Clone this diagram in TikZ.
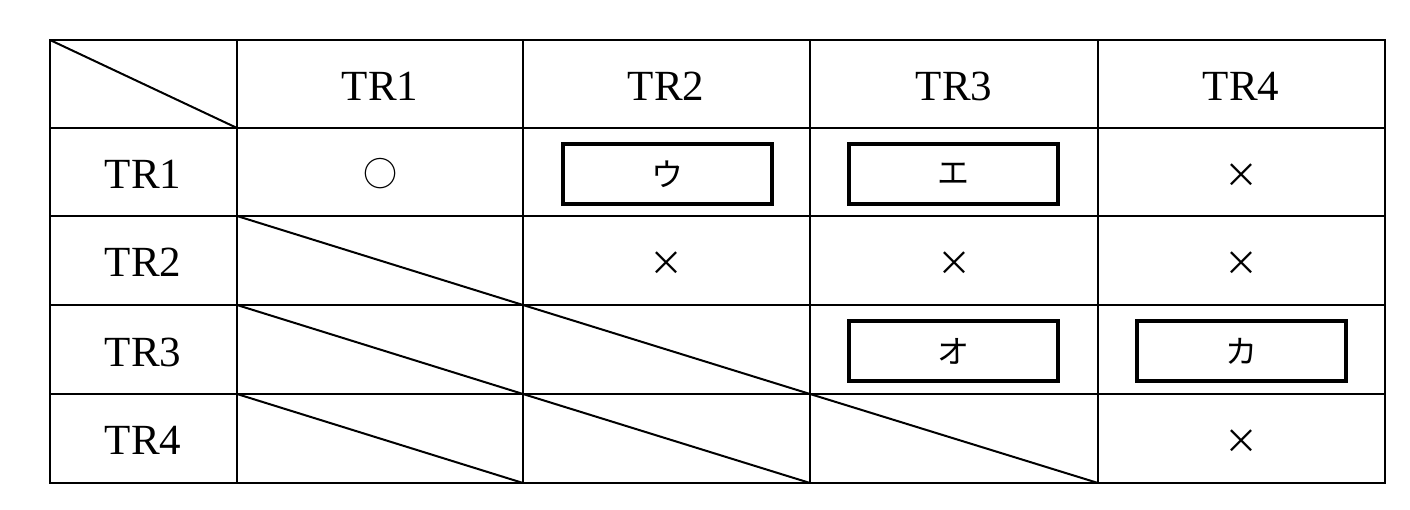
\documentclass[tikz,border=0pt]{standalone}
\usepackage{fontspec}
\setmainfont{Liberation Serif}
\newfontfamily\cjk{Noto Sans CJK JP}
\begin{document}
\begin{tikzpicture}[x=1pt,y=-1pt,
  grid/.style={line width=2pt},
  ansbox/.style={draw,line width=4pt,minimum width=209pt,minimum height=60pt,inner sep=0pt,font=\cjk\fontsize{32}{38}\selectfont},
  lbl/.style={font=\fontsize{43}{50}\selectfont},
  symb/.style={font=\cjk\fontsize{34}{40}\selectfont}]
\useasboundingbox (0,0) rectangle (1410,510);
\fill[white] (0,0) rectangle (1410,510);
\draw[grid] (50,40) rectangle (1385,483);
\foreach \x in {237,523,810,1098} \draw[grid] (\x,40) -- (\x,483);
\foreach \y in {128,216,305,394} \draw[grid] (50,\y) -- (1385,\y);
\draw[grid] (50,40) -- (237,128);
\draw[grid] (237,216) -- (523,305);
\draw[grid] (237,305) -- (523,394);
\draw[grid] (523,305) -- (810,394);
\draw[grid] (237,394) -- (523,483);
\draw[grid] (523,394) -- (810,483);
\draw[grid] (810,394) -- (1098,483);
\node[lbl] (h1) at (380,86) {TR1};
\node[lbl] (h2) at (666,86) {TR2};
\node[lbl] (h3) at (954,86) {TR3};
\node[lbl] (h4) at (1241,86) {TR4};
\node[lbl] (r1) at (143,174) {TR1};
\node[lbl] (r2) at (143,262) {TR2};
\node[lbl] (r3) at (143,352) {TR3};
\node[lbl] (r4) at (143,440) {TR4};
\node[symb] (c11) at (380,174) {○};
\node[ansbox] (u) at (667,174) {ウ};
\node[ansbox] (e) at (953,174) {エ};
\node[symb] (c14) at (1241,176) {×};
\node[symb] (c22) at (666,264) {×};
\node[symb] (c23) at (954,264) {×};
\node[symb] (c24) at (1241,264) {×};
\node[ansbox] (o) at (953,351) {オ};
\node[ansbox] (ka) at (1241,351) {カ};
\node[symb] (c44) at (1241,442) {×};
\end{tikzpicture}
\end{document}
